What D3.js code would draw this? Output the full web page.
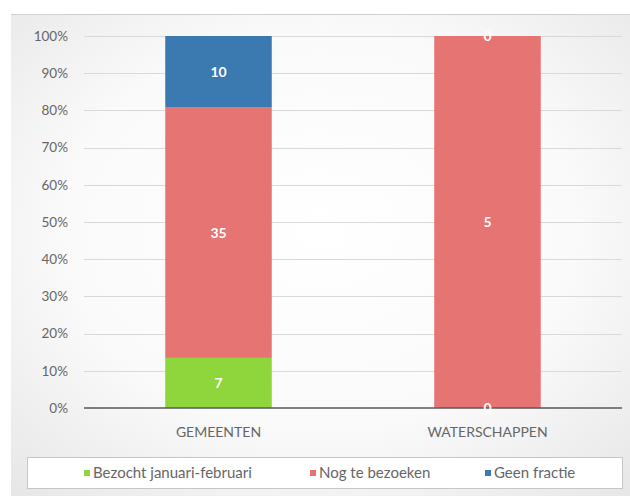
<!DOCTYPE html>
<html>
<head>
<meta charset="utf-8">
<script src="https://cdn.jsdelivr.net/npm/d3@7"></script>
<style>
  body { margin: 0; background: #fff; }
  text { font-family: Lato, "Open Sans", sans-serif; }
</style>
</head>
<body>
<svg id="chart" width="630" height="496"></svg>
<script>
'use strict';

// chart data
const categories = ["GEMEENTEN", "WATERSCHAPPEN"];
const seriesNames = ["Bezocht januari-februari", "Nog te bezoeken", "Geen fractie"];
const bezocht = [7, 0];
const nogTeBezoeken = [35, 5];
const geenFractie = [10, 0];
const seriesColors = ["#8ed63c", "#e67472", "#3b79b1"];
const yTicks = [0, 0.1, 0.2, 0.3, 0.4, 0.5, 0.6, 0.7, 0.8, 0.9, 1];

const svg = d3.select("#chart");
const width = 630, height = 496;

// panel background with soft vignette
const defs = svg.append("defs");
const grad = defs.append("radialGradient")
  .attr("id", "panelGrad")
  .attr("cx", "50%").attr("cy", "45%").attr("r", "75%");
grad.append("stop").attr("offset", "0%").attr("stop-color", "#ffffff");
grad.append("stop").attr("offset", "55%").attr("stop-color", "#fafafa");
grad.append("stop").attr("offset", "100%").attr("stop-color", "#e6e6e6");

svg.append("rect")
  .attr("x", 11).attr("y", 14)
  .attr("width", width - 11).attr("height", height - 14)
  .attr("fill", "url(#panelGrad)");
svg.append("line")
  .attr("x1", 11).attr("x2", width)
  .attr("y1", 14.5).attr("y2", 14.5)
  .attr("stroke", "#cfcfcf");

// stacked data, expanded to 100%
const rows = categories.map((c, i) => ({
  category: c,
  [seriesNames[0]]: bezocht[i],
  [seriesNames[1]]: nogTeBezoeken[i],
  [seriesNames[2]]: geenFractie[i]
}));
const stacked = d3.stack().keys(seriesNames).offset(d3.stackOffsetExpand)(rows);

const plot = { left: 84, right: 622, top: 36, bottom: 408 };

const x = d3.scaleBand()
  .domain(categories)
  .range([plot.left, plot.right])
  .paddingInner(0.604)
  .paddingOuter(0.302);

const y = d3.scaleLinear()
  .domain([0, 1])
  .range([plot.bottom, plot.top]);

const color = d3.scaleOrdinal().domain(seriesNames).range(seriesColors);

// gridlines
svg.append("g")
  .selectAll("line")
  .data(yTicks.filter(t => t > 0))
  .enter()
  .append("line")
    .attr("x1", plot.left).attr("x2", plot.right)
    .attr("y1", d => Math.round(y(d)) + 0.5)
    .attr("y2", d => Math.round(y(d)) + 0.5)
    .attr("stroke", "#d9d9d9");

// y axis labels
const yAxis = d3.axisLeft(y)
  .tickValues(yTicks)
  .tickFormat(d3.format(".0%"))
  .tickSize(0)
  .tickPadding(0);
const yg = svg.append("g")
  .attr("transform", "translate(68,0)")
  .call(yAxis);
yg.select(".domain").remove();
yg.selectAll("text")
  .attr("fill", "#666666")
  .style("font-family", "Lato, sans-serif")
  .style("font-size", "13.5px");

// bars
const layers = svg.append("g")
  .selectAll("g")
  .data(stacked)
  .enter()
  .append("g")
    .attr("fill", d => color(d.key));

layers.selectAll("rect")
  .data(d => d)
  .enter()
  .append("rect")
    .attr("x", d => x(d.data.category))
    .attr("y", d => y(d[1]))
    .attr("width", x.bandwidth())
    .attr("height", d => y(d[0]) - y(d[1]));

// zero axis line
svg.append("line")
  .attr("x1", plot.left).attr("x2", plot.right)
  .attr("y1", plot.bottom).attr("y2", plot.bottom)
  .attr("stroke", "#595959")
  .attr("stroke-width", 1.5);

// data labels
const rawValues = [bezocht, nogTeBezoeken, geenFractie];
stacked.forEach((layer, si) => {
  svg.append("g")
    .selectAll("text")
    .data(layer)
    .enter()
    .append("text")
      .attr("x", d => x(d.data.category) + x.bandwidth() / 2)
      .attr("y", d => y((d[0] + d[1]) / 2))
      .attr("dy", "0.35em")
      .attr("text-anchor", "middle")
      .attr("fill", "#ffffff")
      .style("font-size", "14px")
      .style("font-weight", "bold")
      .text((d, i) => rawValues[si][i]);
});

// category labels
svg.append("g")
  .selectAll("text")
  .data(categories)
  .enter()
  .append("text")
    .attr("x", d => x(d) + x.bandwidth() / 2)
    .attr("y", 437)
    .attr("text-anchor", "middle")
    .attr("fill", "#666666")
    .style("font-size", "14px")
    .text(d => d);

// legend
svg.append("rect")
  .attr("x", 27.5).attr("y", 457.5)
  .attr("width", 595).attr("height", 31)
  .attr("fill", "#ffffff")
  .attr("stroke", "#c6c6c6");

const legendX = [84, 310, 485];
const legend = svg.append("g")
  .selectAll("g")
  .data(seriesNames)
  .enter()
  .append("g")
    .attr("transform", (d, i) => `translate(${legendX[i]},473)`);
legend.append("rect")
  .attr("x", 0).attr("y", -3)
  .attr("width", 6).attr("height", 6)
  .attr("fill", d => color(d));
legend.append("text")
  .attr("x", 9)
  .attr("dy", "0.35em")
  .attr("fill", "#666666")
  .style("font-size", "15px")
  .text(d => d);
</script>
</body>
</html>
